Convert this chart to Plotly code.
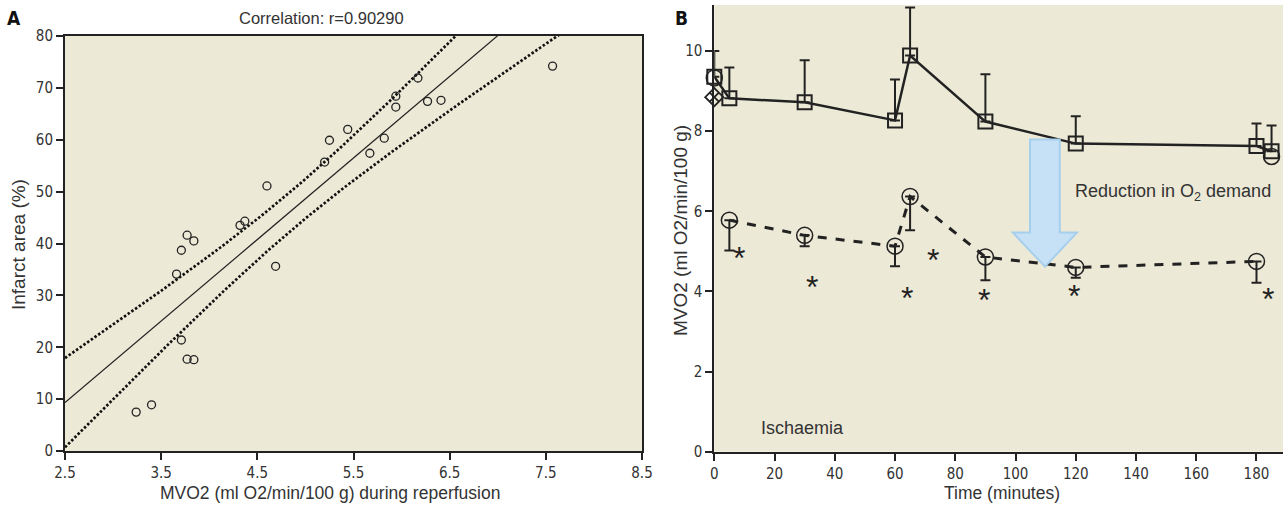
import numpy as np
import plotly.graph_objects as go

# ---------------- Panel A data ----------------
mvo2_reperf = [3.24, 3.40, 3.71, 3.77, 3.84, 3.66, 3.71, 3.77, 3.84, 4.32, 4.37, 4.60,
               4.69, 5.20, 5.25, 5.44, 5.67, 5.82, 5.94, 5.94, 6.17, 6.27, 6.41, 7.57]
infarct_area = [7.5, 8.9, 21.4, 17.7, 17.6, 34.1, 38.7, 41.6, 40.5, 43.5, 44.3, 51.1,
                35.6, 55.7, 59.9, 62.0, 57.4, 60.3, 66.3, 68.4, 71.9, 67.4, 67.6, 74.2]
a_xticks = [2.5, 3.5, 4.5, 5.5, 6.5, 7.5, 8.5]
a_yticks = [0, 10, 20, 30, 40, 50, 60, 70, 80]

# ---------------- Panel B data ----------------
t_ctrl = [0, 5, 30, 60, 65, 90, 120, 180, 185]
mvo2_ctrl = [9.36, 8.82, 8.72, 8.27, 9.89, 8.24, 7.69, 7.63, 7.50]
err_ctrl = [0.64, 0.77, 1.05, 1.02, 1.20, 1.18, 0.68, 0.56, 0.64]

t_treat = [5, 30, 60, 65, 90, 120, 180]
mvo2_treat = [5.78, 5.40, 5.13, 6.37, 4.86, 4.60, 4.75]
err_treat = [0.76, 0.27, 0.50, 0.84, 0.58, 0.26, 0.53]

t_other = [0, 185]
mvo2_other = [9.33, 7.37]
t_diamond = [0]
mvo2_diamond = [8.85]

t_star = [8.3, 32.5, 63.9, 72.7, 89.5, 119.5, 183.9]
y_star = [4.96, 4.23, 3.96, 4.92, 3.92, 4.00, 3.93]

b_xticks = [0, 20, 40, 60, 80, 100, 120, 140, 160, 180]
b_yticks = [0, 2, 4, 6, 8, 10]

# arrow (data coords of panel B)
arrow_shaft = (104.8, 114.7)
arrow_head = (99.1, 120.4)
arrow_tip_x = 109.8
arrow_top, arrow_neck, arrow_tip_y = 7.79, 5.47, 4.62

W, H = 1283, 505
BG = "#ece9d6"
INK = "#222222"
TXT = "#333333"
SANS = "Liberation Sans, Arial, sans-serif"
TICKFONT = dict(family="Liberation Sans Narrow, DejaVu Sans Condensed, Arial Narrow, sans-serif", size=15, color=TXT)
XTITLE = dict(family=SANS, size=17.5, color=TXT)
YTITLE = dict(family=SANS, size=19, color=TXT)
INNER = dict(family=SANS, size=18, color=TXT)

# regression and 95% confidence band
x = np.array(mvo2_reperf)
y = np.array(infarct_area)
n = len(x)
b1, b0 = np.polyfit(x, y, 1)
resid = y - (b0 + b1 * x)
s = np.sqrt(np.sum(resid ** 2) / (n - 2))
sxx = np.sum((x - x.mean()) ** 2)
xs = np.linspace(2.5, 8.5, 200)
yfit = b0 + b1 * xs
half = 2.074 * s * np.sqrt(1.0 / n + (xs - x.mean()) ** 2 / sxx)

fig = go.Figure()

fig.add_trace(go.Scatter(x=xs, y=yfit, mode="lines", line=dict(color=INK, width=1.2),
                         xaxis="x", yaxis="y", showlegend=False))
fig.add_trace(go.Scatter(x=xs, y=yfit + half, mode="lines", line=dict(color="#111", width=2.7, dash="2.5px,2px"),
                         xaxis="x", yaxis="y", showlegend=False))
fig.add_trace(go.Scatter(x=xs, y=yfit - half, mode="lines", line=dict(color="#111", width=2.7, dash="2.5px,2px"),
                         xaxis="x", yaxis="y", showlegend=False))
fig.add_trace(go.Scatter(x=mvo2_reperf, y=infarct_area, mode="markers",
                         marker=dict(symbol="circle-open", size=8, color=INK, line=dict(width=1.3)),
                         xaxis="x", yaxis="y", showlegend=False))

# Panel B traces
fig.add_trace(go.Scatter(x=t_ctrl, y=mvo2_ctrl, mode="lines+markers",
                         line=dict(color=INK, width=2.5),
                         marker=dict(symbol="square-open", size=14, color=INK, line=dict(width=2)),
                         error_y=dict(type="data", symmetric=False, array=err_ctrl,
                                      arrayminus=[0] * len(err_ctrl), color=INK, thickness=2, width=5),
                         cliponaxis=False, xaxis="x2", yaxis="y2", showlegend=False))
fig.add_trace(go.Scatter(x=t_treat, y=mvo2_treat, mode="lines+markers",
                         line=dict(color=INK, width=3, dash="dash"),
                         marker=dict(symbol="circle-open", size=16, color=INK, line=dict(width=1.5)),
                         error_y=dict(type="data", symmetric=False, array=[0] * len(err_treat),
                                      arrayminus=err_treat, color=INK, thickness=2, width=5),
                         cliponaxis=False, xaxis="x2", yaxis="y2", showlegend=False))
fig.add_trace(go.Scatter(x=t_other, y=mvo2_other, mode="markers",
                         marker=dict(symbol="circle-open", size=16, color=INK, line=dict(width=1.5)),
                         cliponaxis=False, xaxis="x2", yaxis="y2", showlegend=False))
fig.add_trace(go.Scatter(x=t_diamond, y=mvo2_diamond, mode="markers",
                         marker=dict(symbol="diamond-x-open", size=14, color=INK, line=dict(width=1.8)),
                         cliponaxis=False, xaxis="x2", yaxis="y2", showlegend=False))

for tx, ty in zip(t_star, y_star):
    fig.add_annotation(x=tx, y=ty, xref="x2", yref="y2", text="*", showarrow=False,
                       yshift=-5, font=dict(family=SANS, size=32, color=INK))

# arrow
path = (f"M {arrow_shaft[0]},{arrow_top} L {arrow_shaft[1]},{arrow_top} L {arrow_shaft[1]},{arrow_neck} "
        f"L {arrow_head[1]},{arrow_neck} L {arrow_tip_x},{arrow_tip_y} L {arrow_head[0]},{arrow_neck} "
        f"L {arrow_shaft[0]},{arrow_neck} Z")
fig.add_shape(type="path", path=path, xref="x2", yref="y2", fillcolor="#c6e0f5",
              line=dict(color="#a6cfee", width=2), layer="above")

fig.add_annotation(x=119.2, y=6.47, xref="x2", yref="y2", xanchor="left", showarrow=False,
                   text="Reduction in O<sub>2</sub> demand", font=INNER)
fig.add_annotation(x=15.0, y=0.59, xref="x2", yref="y2", xanchor="left", showarrow=False,
                   text="Ischaemia", font=INNER)

def paper_text(px, py, text, font, angle=0):
    fig.add_annotation(x=px / W, y=1 - py / H, xref="paper", yref="paper", showarrow=False,
                       text=text, font=font, textangle=angle, xanchor="center", yanchor="middle")

# panel letters & title
paper_text(14, 18, "<b>A</b>", dict(family="DejaVu Sans Condensed, sans-serif", size=19, color="#111"))
paper_text(681, 18, "<b>B</b>", dict(family="DejaVu Sans Condensed, sans-serif", size=19, color="#111"))
paper_text(321, 18, "Correlation: r=0.90290", dict(family=SANS, size=16.5, color=TXT))
# axis titles
paper_text(330, 493, "MVO2 (ml O2/min/100 g) during reperfusion", XTITLE)
paper_text(1002, 493, "Time (minutes)", XTITLE)
paper_text(18, 245, "Infarct area (%)", YTITLE, -90)
paper_text(681, 231, "MVO2 (ml O2/min/100 g)", YTITLE, -90)

axis_common = dict(showgrid=False, zeroline=False, showline=True, linecolor=INK, linewidth=2,
                   ticks="outside", tickcolor=INK, tickwidth=1.5, ticklen=7, tickfont=TICKFONT,
                   automargin=False)

fig.update_layout(
    width=W, height=H,
    margin=dict(l=0, r=0, t=0, b=0),
    paper_bgcolor="white", plot_bgcolor=BG,
    xaxis=dict(domain=[65 / W, 642 / W], range=[2.5, 8.5], tickvals=a_xticks,
               ticktext=[f"{v:.1f}" for v in a_xticks], mirror=True, anchor="y", **axis_common),
    yaxis=dict(domain=[54 / H, 469 / H], range=[0, 80], tickvals=a_yticks, mirror=True, anchor="x",
               **axis_common),
    xaxis2=dict(domain=[714.3 / W, 1.0], range=[0, 188.8], tickvals=b_xticks, anchor="y2",
                **axis_common),
    yaxis2=dict(domain=[53.3 / H, 500 / H], range=[0, 11.15], tickvals=b_yticks, anchor="x2",
                **axis_common),
)

fig.write_html("out.html", config={"displayModeBar": False},
               post_script="document.body.style.margin='0';document.body.style.overflow='hidden';")
